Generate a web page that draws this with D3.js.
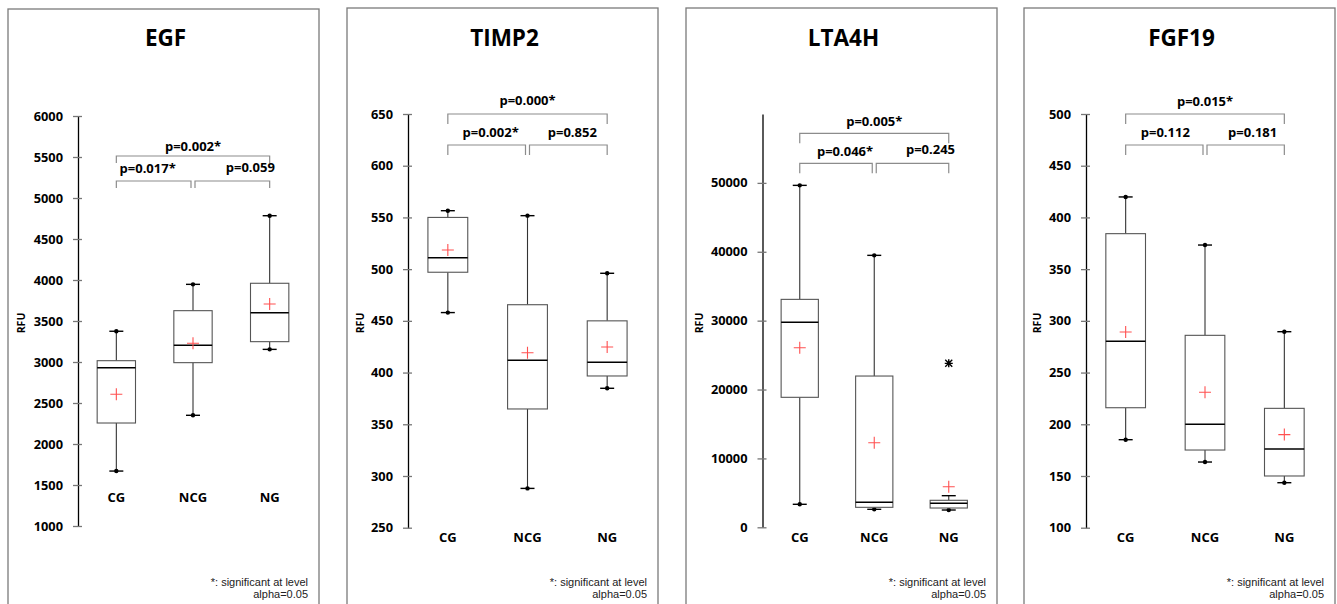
<!DOCTYPE html>
<html>
<head>
<meta charset="utf-8">
<script src="https://cdn.jsdelivr.net/npm/d3@7"></script>
<style>
  html, body { margin: 0; padding: 0; background: #fff; }
  svg { display: block; }
</style>
</head>
<body>
<script>
// categories shared by all panels
var categories = ['CG', 'NCG', 'NG'];
var panelTitles = ['EGF', 'TIMP2', 'LTA4H', 'FGF19'];

// box stats per group: low whisker, q1, median, q3, high whisker, mean
var egfBoxes = [
    { low: 1670, q1: 2256, median: 2930, q3: 3016, high: 3375, mean: 2606 },
    { low: 2350, q1: 2992, median: 3203, q3: 3626, high: 3947, mean: 3228 },
    { low: 3154, q1: 3248, median: 3601, q3: 3960, high: 4784, mean: 3707 }
];
var timp2Boxes = [
    { low: 458, q1: 497, median: 511, q3: 550, high: 556.5, mean: 518.5 },
    { low: 288, q1: 364.8, median: 411.8, q3: 465.6, high: 551.7, mean: 419.2 },
    { low: 384.8, q1: 396.7, median: 410, q3: 450, high: 496, mean: 424.7 }
];
var lta4hBoxes = [
    { low: 3340, q1: 18870, median: 29750, q3: 33090, high: 49640, mean: 26070 },
    { low: 2610, q1: 2900, median: 3630, q3: 21960, high: 39480, mean: 12280 },
    { low: 2510, q1: 2800, median: 3480, q3: 3920, high: 4590, mean: 5890 }
];
var fgf19Boxes = [
    { low: 185.1, q1: 216, median: 280.2, q3: 384.3, high: 419.8, mean: 289.2 },
    { low: 163.5, q1: 175.1, median: 200, q3: 286, high: 373.3, mean: 230.9 },
    { low: 143.5, q1: 150, median: 176.1, q3: 215.4, high: 289.5, mean: 190 }
];

// outliers per group
var egfOutliers = [[], [], []];
var timp2Outliers = [[], [], []];
var lta4hOutliers = [[], [], [23800]];
var fgf19Outliers = [[], [], []];

// tick labels
var egfTicks = [1000, 1500, 2000, 2500, 3000, 3500, 4000, 4500, 5000, 5500, 6000];
var timp2Ticks = [250, 300, 350, 400, 450, 500, 550, 600, 650];
var lta4hTicks = [0, 10000, 20000, 30000, 40000, 50000];
var fgf19Ticks = [100, 150, 200, 250, 300, 350, 400, 450, 500];

// p-values: CG vs NCG, NCG vs NG, CG vs NG
var egfPValues = ['p=0.017*', 'p=0.059', 'p=0.002*'];
var timp2PValues = ['p=0.002*', 'p=0.852', 'p=0.000*'];
var lta4hPValues = ['p=0.046*', 'p=0.245', 'p=0.005*'];
var fgf19PValues = ['p=0.112', 'p=0.181', 'p=0.015*'];

var W = 1337, H = 604;
var FONT = "'Open Sans', 'DejaVu Sans', sans-serif";

var svg = d3.select('body').append('svg')
    .attr('width', W)
    .attr('height', H);

// panel configs (data + layout)
var panels = [
    { title: panelTitles[0], boxes: egfBoxes, outliers: egfOutliers, ticks: egfTicks, pvals: egfPValues,
      domain: [1000, 6000], frameX: 8, frameY: 9, axisOff: 70, yRange: [526, 116], catY: 502,
      bracketY: [181, 156], leg: 7, labelDx: [-6, 18, 0], labelRise: [13, 14, 10] },
    { title: panelTitles[1], boxes: timp2Boxes, outliers: timp2Outliers, ticks: timp2Ticks, pvals: timp2PValues,
      domain: [250, 650], frameX: 347, frameY: 8, axisOff: 61, yRange: [527.7, 114], catY: 542,
      bracketY: [145, 114], leg: 10, labelDx: [4, 4, 0], labelRise: [12.3, 12.3, 14] },
    { title: panelTitles[2], boxes: lta4hBoxes, outliers: lta4hOutliers, ticks: lta4hTicks, pvals: lta4hPValues,
      domain: [0, 60000], frameX: 686, frameY: 8, axisOff: 76.5, yRange: [527.3, 114], catY: 542,
      bracketY: [163.3, 133.3], leg: 10, labelDx: [9, 18, 0], labelRise: [11.6, 14, 11.6] },
    { title: panelTitles[3], boxes: fgf19Boxes, outliers: fgf19Outliers, ticks: fgf19Ticks, pvals: fgf19PValues,
      domain: [100, 500], frameX: 1024, frameY: 8, axisOff: 62, yRange: [527.7, 114], catY: 542,
      bracketY: [145, 114], leg: 10, labelDx: [1, 7, 0], labelRise: [12.3, 12.3, 13] }
];

var FRAME_W = 311;

panels.forEach(function(p) {
    drawPanel(p);
});

// draw one panel
function drawPanel(p) {
    var g = svg.append('g');
    var left = p.frameX;
    var right = p.frameX + FRAME_W;
    var axisX = left + p.axisOff;

    // frame
    g.append('rect')
        .attr('x', left)
        .attr('y', p.frameY)
        .attr('width', FRAME_W)
        .attr('height', H + 10 - p.frameY)
        .attr('fill', 'none')
        .attr('stroke', '#7a7a7a')
        .attr('stroke-width', 1.3);

    // title
    g.append('text')
        .attr('x', (left + right) / 2 + 2)
        .attr('y', 46)
        .attr('text-anchor', 'middle')
        .style('font-family', FONT)
        .style('font-weight', 700)
        .style('font-size', '22.5px')
        .text(p.title);

    // scales
    var y = d3.scaleLinear().domain(p.domain).range(p.yRange);
    var x = d3.scaleBand().domain(categories)
        .range([axisX, right - 11])
        .paddingInner(0.5)
        .paddingOuter(0.25);
    var bw = x.bandwidth();
    var cx = function(c) { return x(c) + bw / 2; };

    // y axis
    var axis = d3.axisLeft(y)
        .tickValues(p.ticks)
        .tickFormat(d3.format('d'))
        .tickSizeInner(5)
        .tickSizeOuter(0)
        .tickPadding(10);
    var ag = g.append('g')
        .attr('transform', 'translate(' + axisX + ',0)')
        .call(axis);
    ag.select('.domain').attr('stroke', '#000').attr('stroke-width', 1.3);
    ag.selectAll('.tick line')
        .attr('x2', -5)
        .attr('x1', 4)
        .attr('stroke', '#777')
        .attr('stroke-width', 1.3);
    ag.selectAll('.tick text')
        .attr('fill', '#000')
        .style('font-family', FONT)
        .style('font-weight', 700)
        .style('font-size', '12.8px');

    // axis title
    g.append('text')
        .attr('transform', 'translate(' + (left + 17) + ',323) rotate(-90)')
        .attr('text-anchor', 'middle')
        .style('font-family', FONT)
        .style('font-weight', 700)
        .style('font-size', '10.5px')
        .text('RFU');

    // category labels
    g.selectAll('.cat')
        .data(categories)
        .enter().append('text')
        .attr('x', function(c) { return cx(c); })
        .attr('y', p.catY)
        .attr('text-anchor', 'middle')
        .style('font-family', FONT)
        .style('font-weight', 700)
        .style('font-size', '13px')
        .text(function(c) { return c; });

    // boxes
    p.boxes.forEach(function(b, i) {
        var c = categories[i];
        var xc = cx(c);
        var bx = x(c);
        var outs = p.outliers[i];
        var hasHigh = outs.filter(function(o) { return o > b.high; }).length > 0;
        var hasLow = outs.filter(function(o) { return o < b.low; }).length > 0;

        // whiskers
        g.append('line')
            .attr('x1', xc).attr('x2', xc)
            .attr('y1', y(b.q3)).attr('y2', y(b.high))
            .attr('stroke', '#333').attr('stroke-width', 1.1);
        g.append('line')
            .attr('x1', xc).attr('x2', xc)
            .attr('y1', y(b.q1)).attr('y2', y(b.low))
            .attr('stroke', '#333').attr('stroke-width', 1.1);

        // caps
        [[b.high, hasHigh], [b.low, hasLow]].forEach(function(w) {
            g.append('line')
                .attr('x1', xc - 7).attr('x2', xc + 7)
                .attr('y1', y(w[0])).attr('y2', y(w[0]))
                .attr('stroke', '#000').attr('stroke-width', 1.4);
            if (!w[1]) {
                g.append('circle')
                    .attr('cx', xc).attr('cy', y(w[0]))
                    .attr('r', 2.2)
                    .attr('fill', '#000');
            }
        });

        // box
        g.append('rect')
            .attr('x', bx)
            .attr('y', y(b.q3))
            .attr('width', bw)
            .attr('height', y(b.q1) - y(b.q3))
            .attr('fill', '#fff')
            .attr('stroke', '#555')
            .attr('stroke-width', 1.1);

        // median
        g.append('line')
            .attr('x1', bx).attr('x2', bx + bw)
            .attr('y1', y(b.median)).attr('y2', y(b.median))
            .attr('stroke', '#000').attr('stroke-width', 1.5);

        // mean
        var my = y(b.mean);
        g.append('path')
            .attr('d', 'M' + (xc - 6) + ',' + my + 'H' + (xc + 6) + 'M' + xc + ',' + (my - 6) + 'V' + (my + 6))
            .attr('stroke', '#ff5050')
            .attr('stroke-width', 1.1)
            .attr('fill', 'none');

        // outliers
        outs.forEach(function(o) {
            var oy = y(o), s = 3.5;
            g.append('path')
                .attr('d', 'M' + (xc - s) + ',' + (oy - s) + 'L' + (xc + s) + ',' + (oy + s) +
                           'M' + (xc + s) + ',' + (oy - s) + 'L' + (xc - s) + ',' + (oy + s) +
                           'M' + (xc - s - 0.5) + ',' + oy + 'H' + (xc + s + 0.5) +
                           'M' + xc + ',' + (oy - s - 0.5) + 'V' + (oy + s + 0.5))
                .attr('stroke', '#000')
                .attr('stroke-width', 1.4);
        });
    });

    // significance brackets
    var c0 = cx(categories[0]), c1 = cx(categories[1]), c2 = cx(categories[2]);
    var spans = [[c0, c1 - 2, p.bracketY[0]], [c1 + 2, c2, p.bracketY[0]], [c0, c2, p.bracketY[1]]];
    spans.forEach(function(s, i) {
        g.append('path')
            .attr('d', 'M' + s[0] + ',' + (s[2] + p.leg) + 'V' + s[2] + 'H' + s[1] + 'V' + (s[2] + p.leg))
            .attr('stroke', '#8c8c8c')
            .attr('stroke-width', 1.2)
            .attr('fill', 'none');
        g.append('text')
            .attr('x', (s[0] + s[1]) / 2 + p.labelDx[i])
            .attr('y', s[2] - p.labelRise[i] + 4.5)
            .attr('text-anchor', 'middle')
            .style('font-family', FONT)
            .style('font-weight', 700)
            .style('font-size', '13px')
            .text(p.pvals[i]);
    });

    // footnote
    var foot = g.append('text')
        .attr('text-anchor', 'end')
        .style('font-family', "'Liberation Sans', Arial, sans-serif")
        .style('font-size', '11px')
        .attr('fill', '#222');
    foot.append('tspan').attr('x', right - 11).attr('y', 586).text('*: significant at level');
    foot.append('tspan').attr('x', right - 11).attr('y', 598).text('alpha=0.05');
}
</script>
</body>
</html>
